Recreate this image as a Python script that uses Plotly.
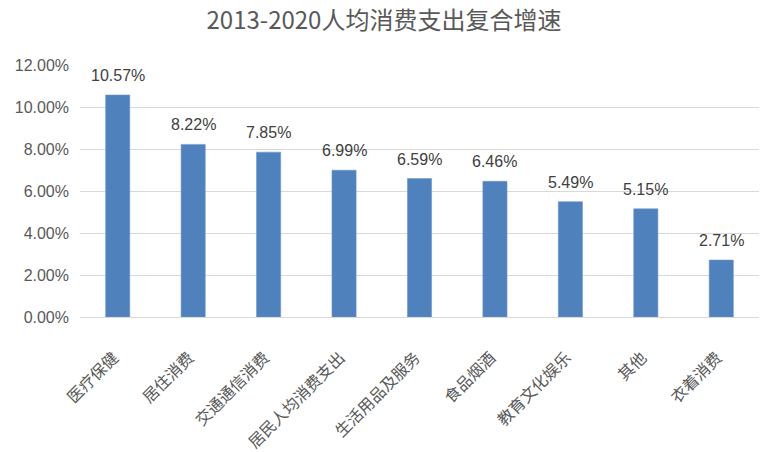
import plotly.graph_objects as go

categories = ["医疗保健", "居住消费", "交通通信消费", "居民人均消费支出", "生活用品及服务",
              "食品烟酒", "教育文化娱乐", "其他", "衣着消费"]
values = [0.1057, 0.0822, 0.0785, 0.0699, 0.0659, 0.0646, 0.0549, 0.0515, 0.0271]
tick_vals = [0, 0.02, 0.04, 0.06, 0.08, 0.10, 0.12]
tick_text = ["0.00%", "2.00%", "4.00%", "6.00%", "8.00%", "10.00%", "12.00%"]
labels = [f"{v*100:.2f}%" for v in values]

W, H = 768, 452

fig = go.Figure(go.Bar(
    x=categories, y=values,
    marker=dict(color="#4f81bd", line=dict(width=0.6, color="#6d97cc")),
    hoverinfo="x+y",
))

for c, v, t in zip(categories, values, labels):
    fig.add_annotation(x=c, y=v, text=t, showarrow=False, yanchor="bottom",
                       yshift=9, font=dict(family="Liberation Sans, Arial", size=16, color="#404040"))

fig.update_layout(
    width=W, height=H,
    paper_bgcolor="white", plot_bgcolor="white",
    margin=dict(l=80, r=9, t=65, b=135, autoexpand=False),
    bargap=0.68,
    showlegend=False,
    title=dict(text="2013-2020人均消费支出复合增速", x=0.5, xanchor="center",
               y=1 - 21 / H, yanchor="middle",
               font=dict(family="Noto Sans CJK SC", size=24, color="#595959")),
    xaxis=dict(tickangle=-45, tickfont=dict(family="Noto Sans CJK SC", size=16, color="#595959"),
               showline=True, linecolor="#d9d9d9", linewidth=1, ticks="",
               ticklabelstandoff=24, ticklabelshift=-4, automargin=False),
    yaxis=dict(range=[0, 0.12], tickvals=tick_vals, ticktext=tick_text,
               tickfont=dict(family="Liberation Sans, Arial", size=16, color="#595959"),
               showgrid=True, gridcolor="#d9d9d9", gridwidth=1, zeroline=False,
               ticks="", ticklabelstandoff=10, automargin=False),
)

fig.write_html("out.html", config={"displayModeBar": False},
               post_script="document.body.style.margin='0';document.body.style.overflow='hidden';")
